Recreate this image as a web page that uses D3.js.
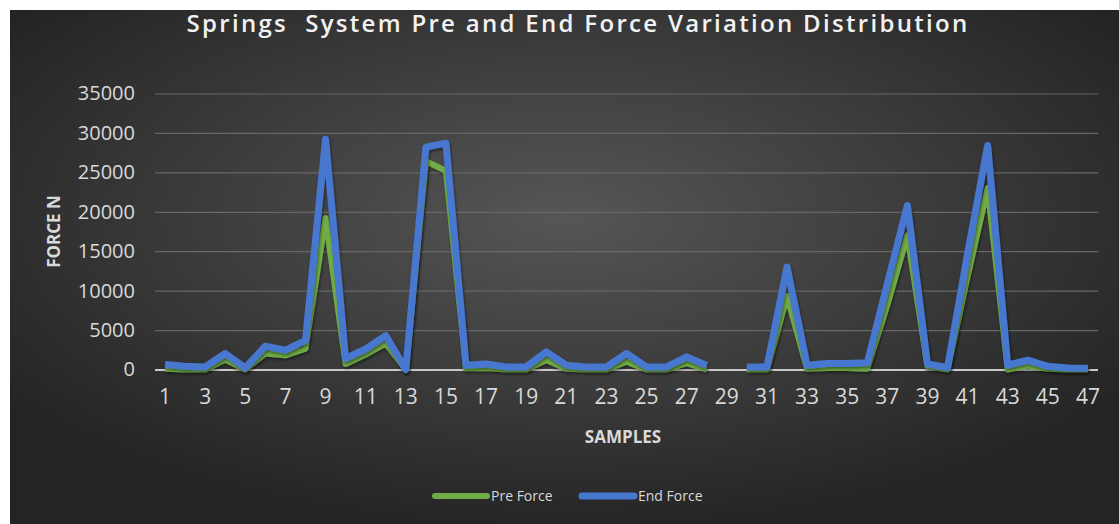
<!DOCTYPE html>
<html>
<head>
<meta charset="utf-8">
<style>
  body { margin: 0; background: #ffffff; }
  svg text { font-family: "Open Sans", "DejaVu Sans", sans-serif; }
</style>
</head>
<body>
<div class="board"></div>
<script src="https://d3js.org/d3.v7.min.js"></script>
<script>
    // values, sample 29 has no reading
    var samples = d3.range(1, 48).map(String)
    var preForce = [100, 0, 0, 1270, 0, 2030, 1800, 2650, 19200, 700,
        1900, 3300, 0, 26400, 25200, 150, 200, 0, 0, 1200,
        100, 0, 0, 1000, 0, 0, 800, 0, null, 0,
        0, 9300, 100, 200, 200, 100, 8200, 17000, 400, 0,
        11800, 23000, 0, 500, 100, 0, 0]
    var endForce = [650, 420, 330, 2030, 200, 2950, 2450, 3700, 29200, 1400,
        2600, 4300, 0, 28200, 28700, 550, 700, 330, 330, 2230,
        550, 330, 330, 2030, 330, 330, 1600, 500, null, 330,
        330, 13000, 550, 760, 760, 850, 10900, 20800, 700, 250,
        14700, 28400, 550, 1180, 400, 200, 150]
    var yTicks = [0, 5000, 10000, 15000, 20000, 25000, 30000, 35000]
    var xTickLabels = samples.filter((d, i) => i % 2 == 0)

    var series = [
        { name: "Pre Force", values: preForce, color: "#70ad47", width: 6 },
        { name: "End Force", values: endForce, color: "#4677cf", width: 7 }
    ]

    var width = 1119, height = 524
    var plot = { left: 155, right: 1098, top: 93.5, bottom: 369.5 }

    var svg = d3.select(".board")
        .append("svg")
        .attr("width", width)
        .attr("height", height)

    var defs = svg.append("defs")
    var grad = defs.append("radialGradient")
        .attr("id", "bg")
        .attr("cx", "50%").attr("cy", "40%").attr("r", "62%")
    grad.append("stop").attr("offset", "0%").attr("stop-color", "#565656")
    grad.append("stop").attr("offset", "100%").attr("stop-color", "#242424")

    var shadow = defs.append("filter").attr("id", "shadow")
        .attr("x", "-10%").attr("y", "-10%").attr("width", "120%").attr("height", "120%")
    shadow.append("feDropShadow")
        .attr("dx", 1).attr("dy", 2).attr("stdDeviation", 1.5)
        .attr("flood-color", "#000").attr("flood-opacity", 0.45)

    svg.append("rect")
        .attr("x", 10).attr("y", 10)
        .attr("width", width - 10).attr("height", height - 10)
        .attr("fill", "url(#bg)")

    var x = d3.scaleBand()
        .domain(samples)
        .range([plot.left, plot.right])

    var y = d3.scaleLinear()
        .domain([0, 35000])
        .range([plot.bottom, plot.top])

    // gridlines + y labels
    var yAxis = svg.append("g")
        .attr("transform", "translate(" + plot.left + ",0)")
        .call(d3.axisLeft(y).tickValues(yTicks).tickFormat(d3.format("d"))
            .tickSize(-(plot.right - plot.left)).tickPadding(20))
    yAxis.select(".domain").remove()
    yAxis.selectAll("line")
        .attr("stroke", d => d == 0 ? "#c8c8c8" : "#676767")
        .attr("stroke-width", d => d == 0 ? 2 : 1.2)
    yAxis.selectAll("text")
        .attr("fill", "#d9d9d9")
        .style("font-size", "20px")

    var xAxis = svg.append("g")
        .attr("transform", "translate(0," + plot.bottom + ")")
        .call(d3.axisBottom(x).tickValues(xTickLabels).tickSize(0).tickPadding(20))
    xAxis.select(".domain").remove()
    xAxis.selectAll("text")
        .attr("fill", "#d9d9d9")
        .style("font-size", "21px")

    var line = d3.line()
        .defined(d => d != null)
        .x((d, i) => x(samples[i]) + x.bandwidth() / 2)
        .y(d => y(d))

    svg.append("g")
        .selectAll("path")
        .data(series)
        .enter()
        .append("path")
        .attr("fill", "none")
        .attr("stroke", d => d.color)
        .attr("stroke-width", d => d.width)
        .attr("stroke-linejoin", "round")
        .attr("filter", "url(#shadow)")
        .attr("d", d => line(d.values))

    // titles
    svg.append("text")
        .text("Springs  System Pre and End Force Variation Distribution")
        .attr("x", 578).attr("y", 32)
        .attr("text-anchor", "middle")
        .attr("fill", "#f2f2f2")
        .style("font-size", "24px")
        .style("font-weight", "600")
        .style("letter-spacing", "2.3px")
        .style("white-space", "pre")

    svg.append("text")
        .text("FORCE N")
        .attr("transform", "translate(60," + (plot.top + plot.bottom) / 2 + ") rotate(-90)")
        .attr("text-anchor", "middle")
        .attr("fill", "#d9d9d9")
        .style("font-size", "17px")
        .style("font-weight", "700")

    svg.append("text")
        .text("SAMPLES")
        .attr("x", 623).attr("y", 443)
        .attr("text-anchor", "middle")
        .attr("fill", "#d9d9d9")
        .style("font-size", "17px")
        .style("font-weight", "700")

    // legend
    var legendX = [435, 582]
    var legend = svg.append("g")
        .selectAll("g")
        .data(series)
        .enter()
        .append("g")
        .attr("transform", (d, i) => "translate(" + legendX[i] + ",496)")
    legend.append("line")
        .attr("x1", 0).attr("x2", 52)
        .attr("stroke", d => d.color)
        .attr("stroke-width", d => d.width)
        .attr("stroke-linecap", "round")
    legend.append("text")
        .text(d => d.name)
        .attr("x", 56).attr("y", 5)
        .attr("fill", "#d9d9d9")
        .style("font-size", "14px")
</script>
</body>
</html>
